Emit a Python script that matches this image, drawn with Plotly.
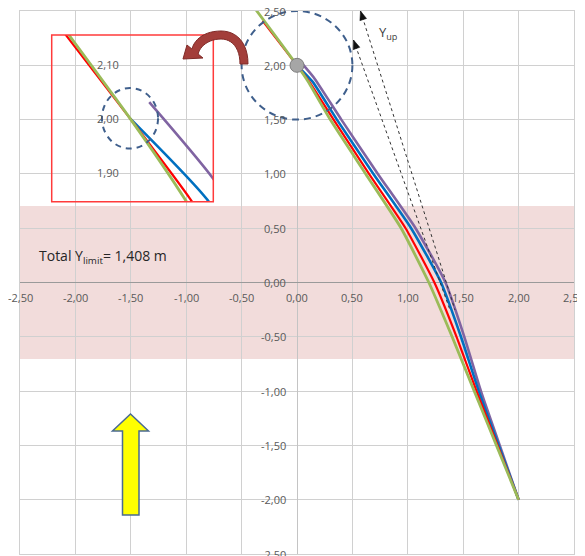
import plotly.graph_objects as go

# ---------------- data ----------------
green_x = [-0.37, 0.00, 0.10, 0.30, 0.62, 0.94, 1.19, 1.40, 1.60, 1.80, 2.00]
green_y = [2.51, 2.00, 1.85, 1.50, 1.00, 0.50, 0.00, -0.50, -1.00, -1.50, -2.00]
red_x = [-0.31, 0.00, 0.11, 0.33, 0.65, 0.98, 1.24, 1.44, 1.62, 1.81, 2.00]
red_y = [2.41, 2.00, 1.85, 1.50, 1.00, 0.50, 0.00, -0.50, -1.00, -1.50, -2.00]
blue_x = [0.00, 0.14, 0.36, 0.69, 1.03, 1.30, 1.48, 1.64, 1.82, 2.00]
blue_y = [2.00, 1.85, 1.50, 1.00, 0.50, 0.00, -0.50, -1.00, -1.50, -2.00]
purple_x = [0.035, 0.15, 0.40, 0.73, 1.07, 1.34, 1.51, 1.66, 1.83, 2.00]
purple_y = [2.03, 1.89, 1.50, 1.00, 0.50, 0.00, -0.50, -1.00, -1.50, -2.00]

start_x = [0.0]
start_y = [2.0]

total_y_limit = 1.408

x_ticks = [-2.5, -2.0, -1.5, -1.0, -0.5, 0.0, 0.5, 1.0, 1.5, 2.0, 2.5]
x_tick_labels = ["-2,50", "-2,00", "-1,50", "-1,00", "-0,50", "0,00", "0,50", "1,00", "1,50", "2,00", "2,50"]
y_ticks = [2.5, 2.0, 1.5, 1.0, 0.5, 0.0, -0.5, -1.0, -1.5, -2.0, -2.5]
y_tick_labels = ["2,50", "2,00", "1,50", "1,00", "0,50", "0,00", "-0,50", "-1,00", "-1,50", "-2,00", "-2,50"]
inset_y_ticks = [2.10, 2.00, 1.90]
inset_y_tick_labels = ["2,10", "2,00", "1,90"]

# ---------------- geometry helpers (screen pixel -> paper) ----------------
OFF = 8  # page body margin
FW, FH = 577, 548
ML, MR, MT, MB = 12, 11, 3, 2
PW, PH = FW - ML - MR, FH - MT - MB


def px(xs):
    return (xs - OFF - ML) / PW


def py(ys):
    return (FH - MB - (ys - OFF)) / PH


def path(points, close=True):
    s = "M " + " L ".join(f"{px(a):.5f},{py(b):.5f}" for a, b in points)
    return s + (" Z" if close else "")


COLORS = dict(green="#9bbb59", red="#ff0000", blue="#0070c0", purple="#8064a2")
series = [
    ("purple", purple_x, purple_y, 2.6),
    ("blue", blue_x, blue_y, 2.6),
    ("red", red_x, red_y, 2.2),
    ("green", green_x, green_y, 2.8),
]

fig = go.Figure()
for axes in [("x", "y"), ("x2", "y2")]:
    for name, xs, ys, w in series:
        fig.add_trace(go.Scatter(x=xs, y=ys, mode="lines", xaxis=axes[0], yaxis=axes[1],
                                 line=dict(color=COLORS[name], width=w, shape="spline", smoothing=0.5),
                                 hoverinfo="skip"))

fig.add_trace(go.Scatter(x=start_x, y=start_y, mode="markers",
                         marker=dict(size=14, color="#a6a6a6", line=dict(color="#7f7f7f", width=1)),
                         hoverinfo="skip"))

grid = "#d0d0d0"
font_ticks = dict(family="Open Sans", size=11, color="#595959")

shapes = []
# Y limit band
shapes.append(dict(type="rect", xref="x", yref="y", x0=-2.5, x1=2.5,
                   y0=-total_y_limit / 2, y1=total_y_limit / 2,
                   fillcolor="#f2dcdb", line=dict(width=0), layer="below"))
# big dashed circle
shapes.append(dict(type="circle", xref="x", yref="y", x0=-0.5, x1=0.5, y0=1.5, y1=2.5,
                   line=dict(color="#3f5f8c", width=2, dash="7px,5px")))
# inset box
ix0, ix1, iy0, iy1 = 51.7, 213.3, 35.0, 201.7
shapes.append(dict(type="rect", xref="paper", yref="paper", x0=px(ix0), x1=px(ix1),
                   y0=py(iy1), y1=py(iy0), line=dict(color="#ff3b3b", width=1.5)))
# small dashed circle in inset
shapes.append(dict(type="circle", xref="x2", yref="y2", x0=-0.051, x1=0.051, y0=1.944, y1=2.056,
                   line=dict(color="#3f5f8c", width=2, dash="6px,5px")))


def bez(p0, c1, c2, p1, n=12):
    pts = []
    for i in range(1, n + 1):
        t = i / n
        a = (1 - t) ** 3
        b = 3 * (1 - t) ** 2 * t
        c = 3 * (1 - t) * t ** 2
        d = t ** 3
        pts.append((a * p0[0] + b * c1[0] + c * c2[0] + d * p1[0],
                    a * p0[1] + b * c1[1] + c * c2[1] + d * p1[1]))
    return pts


# curved arrow (dark red)
arc = [(248, 64)]
arc += bez((248, 64), (248, 42), (236, 31), (221, 31))
arc += bez((221, 31), (206, 31), (195, 38), (191.9, 49))
arc += [(187, 45), (183, 59), (203, 58), (198.1, 54)]
arc += bez((198.1, 54), (200, 46), (209, 39), (221, 39))
arc += bez((221, 39), (232, 39), (240, 48), (240, 64))
shapes.append(dict(type="path", xref="paper", yref="paper", path=path(arc),
                   fillcolor="#a33e3a", line=dict(color="#7f2a27", width=1)))

# yellow arrow
yarrow = [(130.5, 414), (148.5, 431), (139, 431), (139, 515), (122.5, 515), (122.5, 431), (112.5, 431)]
shapes.append(dict(type="path", xref="paper", yref="paper", path=path(yarrow),
                   fillcolor="#ffff00", line=dict(color="#4a6a91", width=1.5)))

# Y_up dotted arrows
for tip, tail in [((360.5, 11), (455, 310)), ((353.5, 40), (450, 310))]:
    shapes.append(dict(type="line", xref="paper", yref="paper",
                       x0=px(tip[0]), y0=py(tip[1]), x1=px(tail[0]), y1=py(tail[1]),
                       line=dict(color="#333333", width=1, dash="dot")))
    dx, dy = tip[0] - tail[0], tip[1] - tail[1]
    L = (dx * dx + dy * dy) ** 0.5
    ux, uy = dx / L, dy / L
    bx, by = tip[0] - 9 * ux, tip[1] - 9 * uy
    head = [tip, (bx + 3.5 * uy, by - 3.5 * ux), (bx - 3.5 * uy, by + 3.5 * ux)]
    shapes.append(dict(type="path", xref="paper", yref="paper", path=path(head),
                       fillcolor="#111111", line=dict(color="#111111", width=0.5)))

annotations = []
for v, t in zip(x_ticks, x_tick_labels):
    annotations.append(dict(x=v, y=0, xref="x", yref="y", text=t, showarrow=False,
                            xanchor="center", yanchor="middle", yshift=-15, font=font_ticks))
for v, t in zip(y_ticks, y_tick_labels):
    annotations.append(dict(x=0, y=v, xref="x", yref="y", text=t, showarrow=False,
                            xanchor="right", yanchor="middle", xshift=-9, font=font_ticks))
for v, t in zip(inset_y_ticks, inset_y_tick_labels):
    annotations.append(dict(x=0, y=v, xref="x2", yref="y2", text=t, showarrow=False,
                            xanchor="right", yanchor="middle", xshift=-9, font=font_ticks))

annotations.append(dict(x=px(37), y=py(257), xref="paper", yref="paper",
                        text="Total Y<sub>limit</sub>= 1,408 m", showarrow=False,
                        xanchor="left", yanchor="middle",
                        font=dict(family="Open Sans", size=14, color="#262626")))
annotations.append(dict(x=px(377), y=py(33), xref="paper", yref="paper",
                        text="Y<sub>up</sub>", showarrow=False,
                        xanchor="left", yanchor="middle",
                        font=dict(family="Open Sans", size=13, color="#404040")))

fig.update_layout(
    width=FW, height=FH,
    margin=dict(l=ML, r=MR, t=MT, b=MB, autoexpand=False),
    paper_bgcolor="white", plot_bgcolor="rgba(0,0,0,0)",
    showlegend=False,
    xaxis=dict(range=[-2.5, 2.5], tickvals=x_ticks, showticklabels=False, ticks="",
               showgrid=True, gridcolor=grid, gridwidth=1,
               zeroline=True, zerolinecolor="#c4c4c4", zerolinewidth=1,
               showline=True, mirror=True, linecolor=grid, linewidth=1, fixedrange=True),
    yaxis=dict(range=[-2.5, 2.5], tickvals=y_ticks, showticklabels=False, ticks="",
               showgrid=True, gridcolor=grid, gridwidth=1,
               zeroline=True, zerolinecolor="#9a9a9a", zerolinewidth=1,
               showline=True, mirror=True, linecolor=grid, linewidth=1, fixedrange=True),
    xaxis2=dict(domain=[px(ix0), px(ix1)], range=[-0.1424, 0.1515], anchor="y2", visible=False),
    yaxis2=dict(domain=[py(iy1), py(iy0)], range=[1.8456, 2.1543], anchor="x2", visible=False),
    shapes=shapes,
    annotations=annotations,
)

fig.write_html("out.html")
